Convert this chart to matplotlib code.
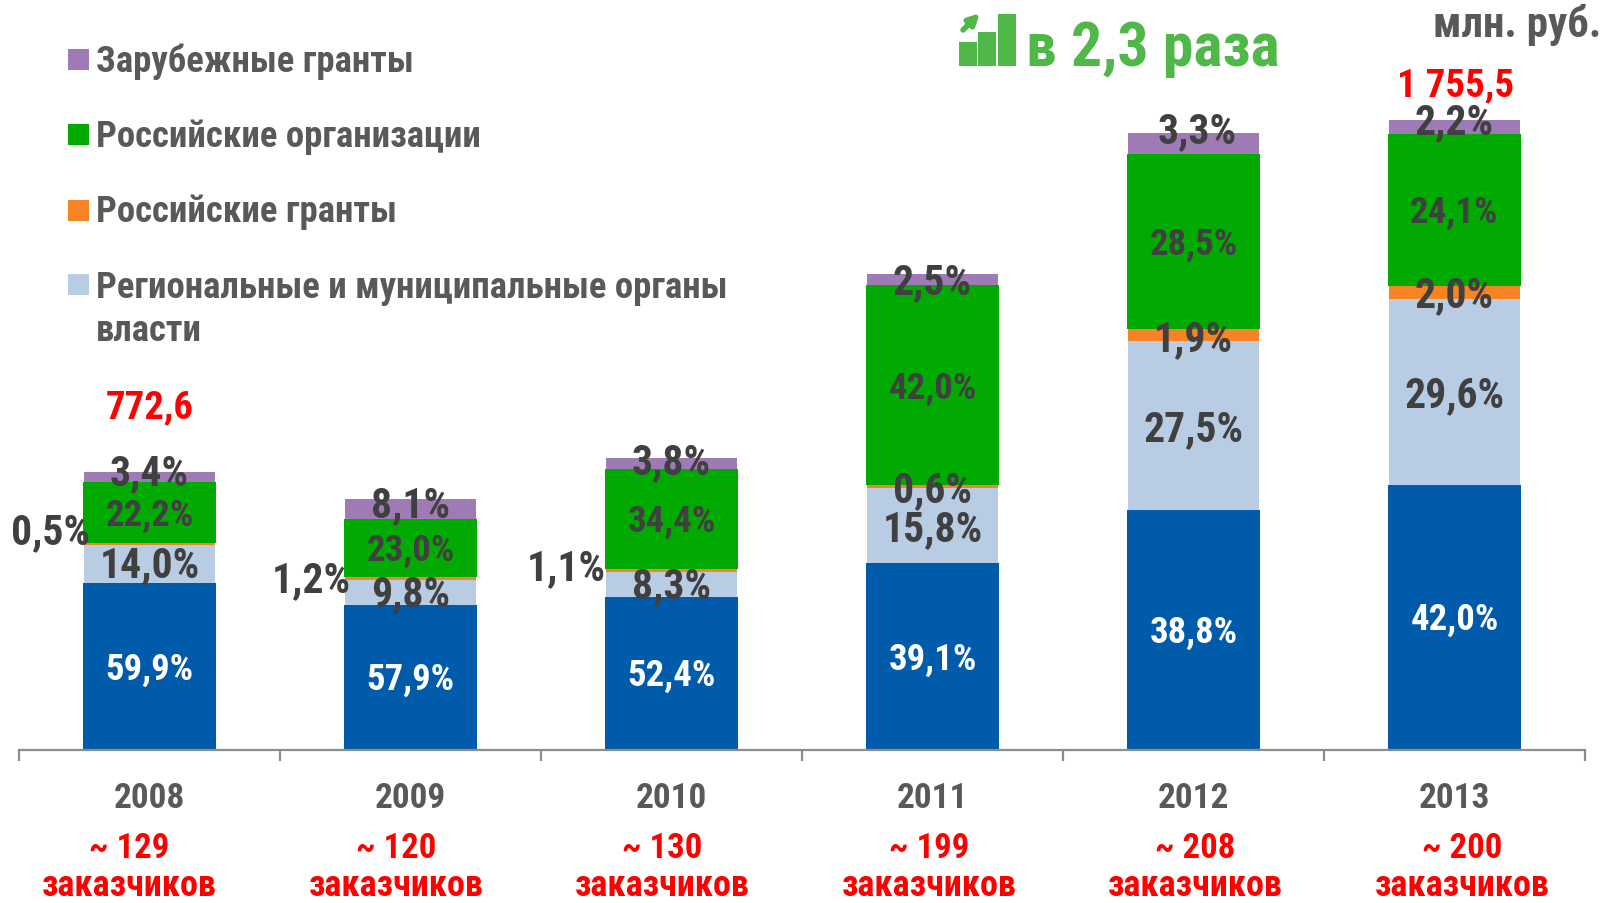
import matplotlib
matplotlib.use("Agg")
import matplotlib.pyplot as plt
import numpy as np
from matplotlib.patches import Rectangle, FancyArrowPatch

W, H = 1616, 904
FONT = ['Roboto Condensed', 'PT Sans Narrow', 'Liberation Sans', 'DejaVu Sans']
plt.rcParams['font.family'] = FONT
plt.rcParams['font.weight'] = 'bold'

years = ['2008', '2009', '2010', '2011', '2012', '2013']
totals = [772.6, 698, 813, 1327, 1718, 1755.5]
total_labels = {0: '772,6', 5: '1 755,5'}
customers = ['~ 129', '~ 120', '~ 130', '~ 199', '~ 208', '~ 200']
customers_word = 'заказчиков'

regional_fed = [59.9, 57.9, 52.4, 39.1, 38.8, 42.0]
regional_mun = [14.0, 9.8, 8.3, 15.8, 27.5, 29.6]
ru_grants = [0.5, 1.2, 1.1, 0.6, 1.9, 2.0]
ru_orgs = [22.2, 23.0, 34.4, 42.0, 28.5, 24.1]
foreign = [3.4, 8.1, 3.8, 2.5, 3.3, 2.2]

series = [regional_fed, regional_mun, ru_grants, ru_orgs, foreign]
colors = ['#005BAB', '#B8CCE4', '#F68424', '#00AA00', '#9E7BB5']
label_colors = ['white', '#404040', '#404040', '#404040', '#404040']
label_sizes = [26.5, 30, 30, 26.5, 30]
legend_items = ['Зарубежные гранты', 'Российские организации', 'Российские гранты',
                'Региональные и муниципальные органы\nвласти']
legend_colors = ['#9E7BB5', '#00AA00', '#F68424', '#B8CCE4']
unit = 'млн. руб.'
growth = 'в 2,3 раза'

fig = plt.figure(figsize=(W / 100, H / 100), dpi=100, facecolor='white')
base_px, left_px, right_px = 750.5, 19, 1585
ax = fig.add_axes([left_px / W, 1 - base_px / H, (right_px - left_px) / W, base_px / H])
ax.set_xlim(0, 6)
ax.set_ylim(0, base_px / 0.3587)
ax.patch.set_alpha(0)
for s in ['top', 'left', 'right']:
    ax.spines[s].set_visible(False)
ax.spines['bottom'].set_color('#8C8C8C')
ax.spines['bottom'].set_linewidth(1.6)
ax.set_yticks([])
ax.set_xticks(range(7))
ax.set_xticklabels([])
ax.tick_params(axis='x', which='major', length=8, width=1.6, color='#8C8C8C')
x = np.arange(6) + 0.5
ax.set_xticks(x, minor=True)
ax.set_xticklabels(years, minor=True, fontsize=25.5, color='#595959')
ax.tick_params(axis='x', which='minor', length=0, pad=23)

# per-label nudges in pixels (dx, dy up) for labels that leave their segment
nudge = {(0, 4): (0, 7), (1, 4): (0, 7), (2, 4): (0, 4), (3, 4): (0, 0), (4, 4): (4, 15), (5, 4): (0, 8),
         (0, 2): (-99, 15), (1, 2): (-99, 1), (2, 2): (-105, 6),
         (3, 2): (0, 0), (4, 2): (0, -1), (5, 2): (0, 0),
         (1, 1): (0, 1), (2, 1): (0, 1), (0, 1): (0, 2)}
lift = 2
bottom = np.zeros(6)
for k, (vals, c) in enumerate(zip(series, colors)):
    h = np.array(vals) * np.array(totals) / 100
    wid = 0.51 if k in (0, 3) else 0.5
    ax.bar(x, h, wid, bottom=bottom, color=c, edgecolor='none', linewidth=0, zorder=2)
    for i in range(6):
        dx, dy = nudge.get((i, k), (0, 0))
        ax.annotate(f'{vals[i]:.1f}%'.replace('.', ','), (x[i], bottom[i] + h[i] / 2),
                    xytext=(dx * 0.72, (dy + lift) * 0.72), textcoords='offset points',
                    ha='center', va='center_baseline', color=label_colors[k],
                    fontsize=label_sizes[k], zorder=5)
    bottom += h

ov = fig.add_axes([0, 0, 1, 1])
ov.set_xlim(0, W)
ov.set_ylim(H, 0)
ov.axis('off')
ov.patch.set_alpha(0)

for i, lbl in total_labels.items():
    ov.text(left_px + (i + 0.5) * (right_px - left_px) / 6 + (1 if i == 5 else 0),
            418 if i == 0 else 96, lbl, color='#FF0000', fontsize=28,
            ha='center', va='baseline')
for i, c in enumerate(customers):
    cx = 129.3 + 266.5 * i
    ov.text(cx, 858, c, color='#FF0000', fontsize=25, ha='center', va='baseline')
    ov.text(cx, 896, customers_word, color='#FF0000', fontsize=26, ha='center', va='baseline')

leg_y = [49.5, 124.7, 201, 275]
leg_base = [72, 147, 222.5, 298]
for t, c, y, by in zip(legend_items, legend_colors, leg_y, leg_base):
    ov.add_patch(Rectangle((67.5, y), 21, 21, color=c, lw=0))
    first, *rest = t.split('\n')
    ov.text(96, by, first, color='#595959', fontsize=26.5, ha='left', va='baseline')
    if rest:
        ov.text(96, by + 43, rest[0], color='#595959', fontsize=26.5, ha='left', va='baseline')

ov.text(1601, 37, unit, color='#595959', fontsize=31, ha='right', va='baseline')
ov.text(1026, 66, growth, color='#50B848', fontsize=44.5, ha='left', va='baseline')

for bx, top in [(959, 43), (978, 33), (998, 15)]:
    ov.add_patch(Rectangle((bx, top), 17.5, 67 - top, color='#50B848', lw=0))
ov.add_patch(FancyArrowPatch((963, 31), (980, 14), arrowstyle='-|>', mutation_scale=16,
                             color='#50B848', lw=4, shrinkA=0, shrinkB=0))

fig.savefig('out.png', dpi=100, facecolor='white')
